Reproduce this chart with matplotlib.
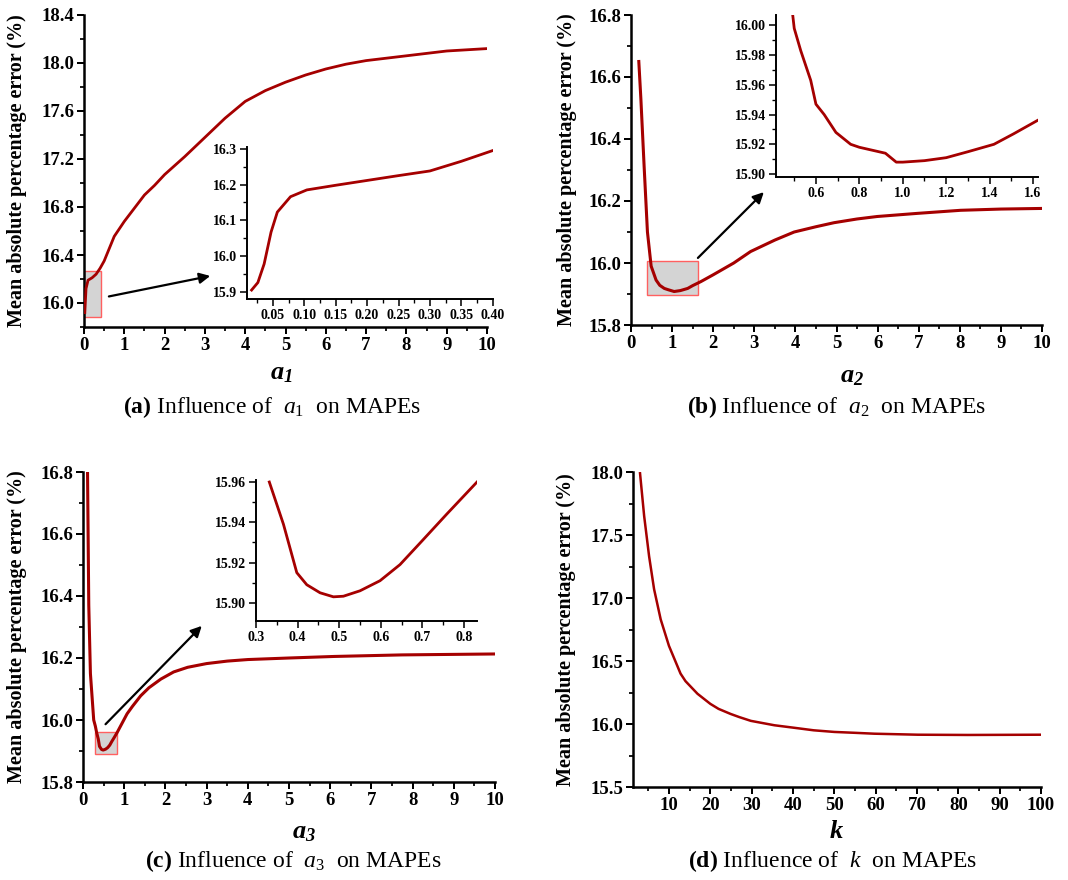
import numpy as np
import matplotlib
matplotlib.use('Agg')
import matplotlib.pyplot as plt
from matplotlib.ticker import MultipleLocator, FormatStrFormatter
from matplotlib.patches import Rectangle

plt.rcParams['font.family'] = 'Liberation Serif'
plt.rcParams['font.weight'] = 'bold'
plt.rcParams['mathtext.fontset'] = 'custom'
plt.rcParams['mathtext.rm'] = 'Liberation Serif:normal'
plt.rcParams['mathtext.it'] = 'Liberation Serif:italic:normal'
plt.rcParams['mathtext.bf'] = 'Liberation Serif:bold'
plt.rcParams['mathtext.bfit'] = 'Liberation Serif:bold:italic'

# ---- data ----
a1_x = [0.02, 0.05, 0.1, 0.2, 0.3, 0.4, 0.5, 0.75, 1.0, 1.25, 1.5, 1.75, 2.0, 2.5, 3.0, 3.5, 4.0, 4.5, 5.0, 5.5,
        6.0, 6.5, 7.0, 7.5, 8.0, 8.5, 9.0, 9.5, 10.0]
a1_y = [15.92, 16.12, 16.19, 16.21, 16.24, 16.29, 16.35, 16.555, 16.68, 16.79, 16.90, 16.98, 17.07, 17.22, 17.38,
        17.54, 17.68, 17.77, 17.84, 17.90, 17.95, 17.99, 18.02, 18.04, 18.06, 18.08, 18.10, 18.11, 18.12]
a1_zoom_x = [0.016, 0.026, 0.036, 0.047, 0.057, 0.078, 0.104, 0.15, 0.187, 0.25, 0.30, 0.35, 0.40]
a1_zoom_y = [15.905, 15.926, 15.978, 16.067, 16.123, 16.166, 16.185, 16.198, 16.208, 16.225, 16.238, 16.265, 16.295]

a2_x = [0.19, 0.24, 0.32, 0.40, 0.49, 0.61, 0.70, 0.81, 0.9, 1.05, 1.2, 1.38, 1.5, 1.70, 2.0, 2.5, 2.91, 3.5,
        3.97, 4.5, 4.94, 5.5, 5.99, 6.96, 8.02, 9.0, 10.0]
a2_y = [16.65, 16.53, 16.31, 16.10, 15.99, 15.945, 15.928, 15.918, 15.914, 15.908, 15.911, 15.918, 15.927, 15.94,
        15.962, 16.0, 16.037, 16.074, 16.10, 16.117, 16.13, 16.142, 16.15, 16.16, 16.17, 16.174, 16.176]
a2_zoom_x = [0.493, 0.50, 0.53, 0.576, 0.60, 0.638, 0.692, 0.76, 0.80, 0.86, 0.92, 0.97, 1.0, 1.1, 1.2, 1.3, 1.42,
             1.51, 1.62]
a2_zoom_y = [16.007, 15.998, 15.983, 15.963, 15.947, 15.94, 15.928, 15.92, 15.918, 15.916, 15.914, 15.908, 15.908,
             15.909, 15.911, 15.915, 15.92, 15.927, 15.936]

a3_x = [0.11, 0.14, 0.18, 0.26, 0.30, 0.33, 0.37, 0.40, 0.45, 0.49, 0.55, 0.60, 0.65, 0.70, 0.76, 0.83, 1.07, 1.2,
        1.4, 1.6, 1.89, 2.2, 2.54, 3.0, 3.5, 4.0, 5.0, 6.1, 7.74, 10.0]
a3_y = [16.8, 16.37, 16.15, 16.0, 15.98, 15.96, 15.939, 15.915, 15.905, 15.903, 15.906, 15.911, 15.919, 15.931,
        15.944, 15.96, 16.02, 16.044, 16.078, 16.104, 16.132, 16.155, 16.17, 16.182, 16.19, 16.195, 16.20, 16.205,
        16.21, 16.213]
a3_zoom_x = [0.332, 0.366, 0.398, 0.422, 0.454, 0.486, 0.51, 0.55, 0.598, 0.646, 0.70, 0.758, 0.831]
a3_zoom_y = [15.96, 15.939, 15.915, 15.909, 15.905, 15.903, 15.9033, 15.906, 15.911, 15.919, 15.931, 15.944, 15.96]

k_x = [3, 4, 5.2, 6.4, 8, 10, 12.8, 14, 16.9, 20, 22, 24.9, 27, 29.8, 35.5, 40.3, 45, 50, 55, 59.7, 70.2, 82.3, 100]
k_y = [17.99, 17.65, 17.33, 17.07, 16.83, 16.62, 16.40, 16.34, 16.24, 16.16, 16.12, 16.08, 16.055, 16.025, 15.99,
       15.97, 15.95, 15.937, 15.93, 15.923, 15.915, 15.913, 15.915]

RED = '#a50000'
W, H = 1068, 880
fig = plt.figure(figsize=(W / 100, H / 100), dpi=100)


def px_axes(l, t, r, b):
    return fig.add_axes([l / W, 1 - b / H, (r - l) / W, (b - t) / H])


def style(ax, xmaj, xmin, ymaj, ymin, xfmt, yfmt, size, lw=1.8):
    for s in ['top', 'right']:
        ax.spines[s].set_visible(False)
    for s in ['left', 'bottom']:
        ax.spines[s].set_linewidth(lw)
    ax.xaxis.set_major_locator(MultipleLocator(xmaj))
    ax.xaxis.set_minor_locator(MultipleLocator(xmin))
    ax.yaxis.set_major_locator(MultipleLocator(ymaj))
    ax.yaxis.set_minor_locator(MultipleLocator(ymin))
    ax.xaxis.set_major_formatter(FormatStrFormatter(xfmt))
    ax.yaxis.set_major_formatter(FormatStrFormatter(yfmt))
    ax.tick_params(which='major', direction='out', length=5, width=lw * 0.8, labelsize=size, pad=2)
    ax.tick_params(which='minor', direction='out', length=3, width=lw * 0.7)
    ax.patch.set_alpha(0)


def labels(ax, xl, ycenter_px_x, l, r, xlab_px, b, h):
    ax.set_ylabel('Mean absolute percentage error (%)', fontsize=14.5, fontweight='bold')
    ax.yaxis.set_label_coords((ycenter_px_x - l) / (r - l), 0.5)
    ax.yaxis.label.set_va('center')
    ax.set_xlabel(xl, fontsize=19)
    ax.xaxis.set_label_coords((xlab_px[0] - l) / (r - l), (b - xlab_px[1]) / h)
    ax.xaxis.label.set_va('center')


def arrow(ax, start, end):
    ax.annotate('', xy=end, xytext=start,
                arrowprops=dict(arrowstyle='-|>', color='black', lw=1.6, mutation_scale=16))


def caption(cx, cy, letter, sym):
    fig.text(cx / W, 1 - cy / H, r'$\mathbf{(' + letter + r')}$ Influence of  $' + sym + r'$  on MAPEs',
             ha='center', va='center', fontsize=17, fontweight='normal')


# ---- (a) ----
ax = px_axes(84, 15, 487, 327)
ax.add_patch(Rectangle((0.0, 15.88), 0.41, 0.39, facecolor='#d4d4d4', edgecolor='#ff6060', lw=1, zorder=1))
ax.plot(a1_x, a1_y, color=RED, lw=2, zorder=3)
ax.set_xlim(0, 10)
ax.set_ylim(15.8, 18.4)
style(ax, 1, 0.5, 0.4, 0.2, '%d', '%.1f', 13.5)
labels(ax, r'$\mathbfit{a}_\mathbfit{1}$', 17, 84, 487, (281, 374), 327, 312)
arrow(ax, (0.55, 16.05), (3.2, 16.23))

ins = px_axes(247, 147, 493, 299)
ins.plot(a1_zoom_x, a1_zoom_y, color=RED, lw=2)
ins.set_xlim(0.0087, 0.4005)
ins.set_ylim(15.88, 16.305)
style(ins, 0.05, 0.025, 0.1, 0.05, '%.2f', '%.1f', 10, lw=1.4)
ins.set_xticks([0.05, 0.10, 0.15, 0.20, 0.25, 0.30, 0.35, 0.40])
caption(272, 407, 'a', 'a_1')

# ---- (b) ----
ax = px_axes(631, 15, 1042, 325)
ax.add_patch(Rectangle((0.4, 15.897), 1.22, 0.108, facecolor='#d4d4d4', edgecolor='#ff6060', lw=1, zorder=1))
ax.plot(a2_x, a2_y, color=RED, lw=2.2, zorder=3)
ax.set_xlim(0, 10)
ax.set_ylim(15.8, 16.8)
style(ax, 1, 0.5, 0.2, 0.1, '%d', '%.1f', 13.5)
labels(ax, r'$\mathbfit{a}_\mathbfit{2}$', 567, 631, 1042, (852, 377), 325, 310)
arrow(ax, (1.58, 16.01), (3.28, 16.235))

ins = px_axes(776, 15, 1038, 177)
ins.plot(a2_zoom_x, a2_zoom_y, color=RED, lw=2)
ins.set_xlim(0.416, 1.623)
ins.set_ylim(15.898, 16.007)
style(ins, 0.2, 0.1, 0.02, 0.01, '%.1f', '%.2f', 10, lw=1.4)
caption(837, 407, 'b', 'a_2')

# ---- (c) ----
ax = px_axes(83, 472, 495, 782)
ax.add_patch(Rectangle((0.28, 15.891), 0.55, 0.069, facecolor='#d4d4d4', edgecolor='#ff6060', lw=1, zorder=1))
ax.plot(a3_x, a3_y, color=RED, lw=2.2, zorder=3)
ax.set_xlim(0, 10)
ax.set_ylim(15.8, 16.8)
style(ax, 1, 0.5, 0.2, 0.1, '%d', '%.1f', 13.5)
labels(ax, r'$\mathbfit{a}_\mathbfit{3}$', 17, 83, 495, (304, 833), 782, 310)
arrow(ax, (0.5, 15.98), (2.93, 16.31))

ins = px_axes(256, 480, 477, 621)
ins.plot(a3_zoom_x, a3_zoom_y, color=RED, lw=2)
ins.set_xlim(0.3, 0.831)
ins.set_ylim(15.891, 15.961)
style(ins, 0.1, 0.05, 0.02, 0.01, '%.1f', '%.2f', 10, lw=1.4)
caption(293, 861, 'c', 'a_3')

# ---- (d) ----
ax = px_axes(633, 472, 1041, 787)
ax.plot(k_x, k_y, color=RED, lw=1.8, zorder=3)
ax.set_xlim(1.3, 100)
ax.set_ylim(15.5, 18.0)
style(ax, 10, 5, 0.5, 0.25, '%d', '%.1f', 13.5)
labels(ax, r'$\mathbfit{k}$', 566, 633, 1041, (836, 832), 787, 315)
caption(833, 861, 'd', 'k')

fig.savefig('out.png', dpi=100, facecolor='white')
